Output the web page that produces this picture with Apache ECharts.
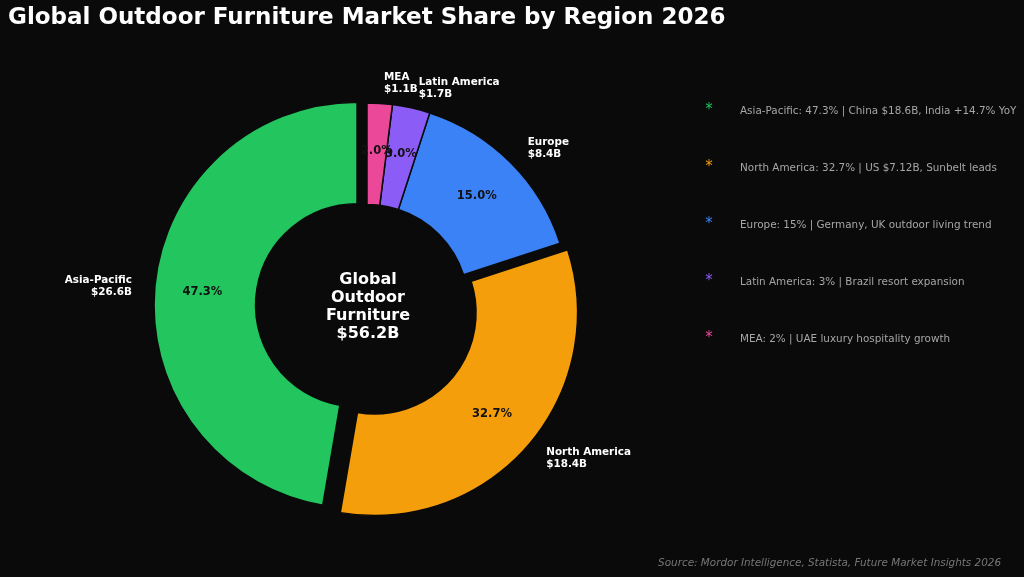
<!DOCTYPE html>
<html>
<head>
<meta charset="utf-8">
<title>Global Outdoor Furniture Market Share by Region 2026</title>
<script src="https://cdn.jsdelivr.net/npm/echarts@6/dist/echarts.min.js"></script>
<style>
  html, body { margin: 0; padding: 0; background: #0a0a0a; }
  #chart { width: 1024px; height: 577px; }
</style>
</head>
<body>
<div id="chart"></div>
<script>
  // data
  const regions = ['Asia-Pacific', 'North America', 'Europe', 'Latin America', 'MEA']
  const shares = [47.3, 32.7, 15.0, 3.0, 2.0]         // %
  const marketSize = [26.6, 18.4, 8.4, 1.7, 1.1]      // $B
  const colors = ['#22c55e', '#f59e0b', '#3b82f6', '#8b5cf6', '#ec4899']
  const notes = [
    'Asia-Pacific: 47.3% | China $18.6B, India +14.7% YoY',
    'North America: 32.7% | US $7.12B, Sunbelt leads',
    'Europe: 15% | Germany, UK outdoor living trend',
    'Latin America: 3% | Brazil resort expansion',
    'MEA: 2% | UAE luxury hospitality growth'
  ]
  const centerTitle = 'Global\nOutdoor\nFurniture'
  const source = 'Source: Mordor Intelligence, Statista, Future Market Insights 2026'

  const BG = '#0a0a0a'
  const FONT = 'DejaVu Sans'
  const total = marketSize.reduce((a, b) => a + b, 0)
  const CENTER = [367, 306]
  const RADIUS = [101.5, 203]
  const exploded = ['Asia-Pacific', 'North America']   // pulled out wedges

  const myChart = echarts.init(document.getElementById('chart'))

  // explode = selected wedges pushed out by selectedOffset
  const pieBase = {
    type: 'pie',
    center: CENTER,
    radius: RADIUS,
    startAngle: 90,
    clockwise: false,
    selectedMode: 'multiple',
    selectedOffset: 10,
    avoidLabelOverlap: false,
    minShowLabelAngle: 0,
    labelLayout: { hideOverlap: false },
    animation: false,
    emphasis: { disabled: true }
  }

  const noteGraphics = []
  notes.forEach((note, i) => {
    noteGraphics.push({
      type: 'text',
      x: 709,
      y: 110 + i * 57,
      style: {
        text: '*', fill: colors[i], font: '15px ' + FONT,
        textAlign: 'center', textVerticalAlign: 'middle'
      }
    })
    noteGraphics.push({
      type: 'text',
      x: 740,
      y: 111 + i * 57,
      style: {
        text: note, fill: '#a6a6a6', font: '10.4px ' + FONT,
        textAlign: 'left', textVerticalAlign: 'middle'
      }
    })
  })

  const option = {
    backgroundColor: BG,
    title: {
      text: 'Global Outdoor Furniture Market Share by Region 2026',
      left: 8,
      top: 7,
      padding: 0,
      textStyle: { color: '#ffffff', fontSize: 23, fontWeight: 'bold', fontFamily: FONT }
    },
    series: [
      Object.assign({}, pieBase, {
        label: {
          position: 'outside',
          color: '#ffffff',
          fontFamily: FONT,
          fontWeight: 'bold',
          fontSize: 10.4,
          lineHeight: 12,
          distanceToLabelLine: 3,
          formatter: (p) => p.name + '\n$' + marketSize[p.dataIndex].toFixed(1) + 'B'
        },
        labelLine: { show: false, length: 20, length2: 0 },
        itemStyle: { borderColor: BG, borderWidth: 1.5 },
        select: { itemStyle: { borderColor: BG, borderWidth: 1.5 } },
        data: regions.map((name, i) => ({
          name: name,
          value: shares[i],
          selected: exploded.indexOf(name) > -1,
          itemStyle: { color: colors[i] },
          select: { itemStyle: { color: colors[i] } }
        }))
      }),
      // percent labels on top of the ring
      Object.assign({}, pieBase, {
        silent: true,
        label: {
          position: 'inside',
          color: '#111111',
          fontFamily: FONT,
          fontWeight: 'bold',
          fontSize: 11.5,
          formatter: (p) => p.value.toFixed(1) + '%'
        },
        labelLine: { show: false },
        itemStyle: { color: 'transparent', borderWidth: 0 },
        select: { itemStyle: { color: 'transparent', borderWidth: 0 } },
        data: regions.map((name, i) => ({
          name: name,
          value: shares[i],
          selected: exploded.indexOf(name) > -1
        }))
      })
    ],
    graphic: [
      {
        type: 'text',
        x: CENTER[0] + 1,
        y: CENTER[1] + 1,
        style: {
          text: centerTitle + '\n$' + total.toFixed(1) + 'B',
          fill: '#ffffff',
          font: 'bold 16px ' + FONT,
          lineHeight: 18,
          textAlign: 'center',
          textVerticalAlign: 'middle'
        }
      },
      {
        type: 'text',
        x: 1001,
        y: 563,
        style: {
          text: source, fill: '#777777', font: 'italic 10.4px ' + FONT,
          textAlign: 'right', textVerticalAlign: 'middle'
        }
      }
    ].concat(noteGraphics)
  }
  myChart.setOption(option)
</script>
</body>
</html>
